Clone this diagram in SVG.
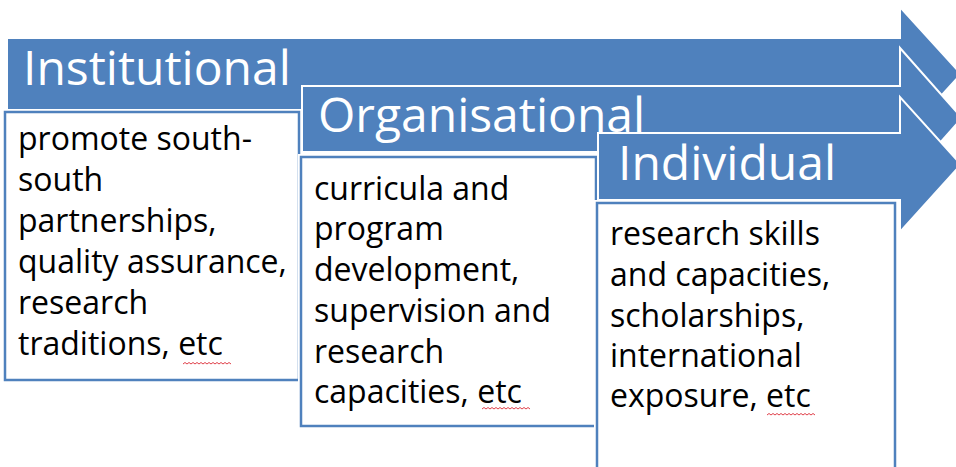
<svg xmlns="http://www.w3.org/2000/svg" width="956" height="467" viewBox="0 0 956 467">
<style>
.arrow{fill:#4F81BD;stroke:#FFFFFF;stroke-width:2;stroke-linejoin:miter}
.label{font-family:"Open Sans","Noto Sans",sans-serif;font-size:48px;fill:#FFFFFF}
.boxo{fill:none;stroke:#FFFFFF;stroke-width:6}
.box{fill:#FFFFFF;stroke:#4F81BD;stroke-width:2.5}
.txt{font-family:"Open Sans","Noto Sans",sans-serif;font-size:32px;fill:#000000}
.sq{fill:none;stroke:#E0404A;stroke-width:1}
</style>
<rect x="0" y="0" width="956" height="467" fill="#FFFFFF"/>
<g id="institutional">
<polygon class="arrow" points="7,38 900,38 900,7 961,74 900,141 900,110 7,110"/>
<text class="label" x="23" y="85">Institutional</text>
<rect class="boxo" x="5" y="112" width="294" height="268"/>
<rect class="box" x="5" y="112" width="294" height="268"/>
<text class="txt"><tspan x="18" y="150">promote south-</tspan><tspan x="18" y="191">south</tspan><tspan x="18" y="232">partnerships,</tspan><tspan x="18" y="273">quality assurance,</tspan><tspan x="18" y="314">research</tspan><tspan x="18" y="355">traditions, etc</tspan></text>
<path class="sq" d="M183,364 l2,-1.5 l2,1.5 l2,-1.5 l2,1.5 l2,-1.5 l2,1.5 l2,-1.5 l2,1.5 l2,-1.5 l2,1.5 l2,-1.5 l2,1.5 l2,-1.5 l2,1.5 l2,-1.5 l2,1.5 l2,-1.5 l2,1.5 l2,-1.5 l2,1.5 l2,-1.5 l2,1.5 l2,-1.5 l2,1.5"/>
</g>
<g id="organisational">
<polygon class="arrow" points="302,86 900,86 900,48 962,118 900,188 900,152 302,152"/>
<text class="label" x="318" y="132">Organisational</text>
<rect class="boxo" x="301" y="157" width="295" height="269"/>
<rect class="box" x="301" y="157" width="295" height="269"/>
<text class="txt"><tspan x="314" y="200">curricula and</tspan><tspan x="314" y="240">program</tspan><tspan x="314" y="281">development,</tspan><tspan x="314" y="322">supervision and</tspan><tspan x="314" y="363">research</tspan><tspan x="314" y="403">capacities, etc</tspan></text>
<path class="sq" d="M482,409 l2,-1.5 l2,1.5 l2,-1.5 l2,1.5 l2,-1.5 l2,1.5 l2,-1.5 l2,1.5 l2,-1.5 l2,1.5 l2,-1.5 l2,1.5 l2,-1.5 l2,1.5 l2,-1.5 l2,1.5 l2,-1.5 l2,1.5 l2,-1.5 l2,1.5 l2,-1.5 l2,1.5 l2,-1.5 l2,1.5"/>
</g>
<g id="individual">
<polygon class="arrow" points="598,133 900,133 900,97 961,164.5 900,232 900,200 598,200"/>
<text class="label" x="618" y="180">Individual</text>
<rect class="boxo" x="597" y="203" width="298" height="270"/>
<rect class="box" x="597" y="203" width="298" height="270"/>
<text class="txt"><tspan x="610" y="245">research skills</tspan><tspan x="610" y="286">and capacities,</tspan><tspan x="610" y="327">scholarships,</tspan><tspan x="610" y="367">international</tspan><tspan x="610" y="407">exposure, etc</tspan></text>
<path class="sq" d="M767,415 l2,-1.5 l2,1.5 l2,-1.5 l2,1.5 l2,-1.5 l2,1.5 l2,-1.5 l2,1.5 l2,-1.5 l2,1.5 l2,-1.5 l2,1.5 l2,-1.5 l2,1.5 l2,-1.5 l2,1.5 l2,-1.5 l2,1.5 l2,-1.5 l2,1.5 l2,-1.5 l2,1.5 l2,-1.5 l2,1.5"/>
</g>
<g id="connectors"></g>
</svg>
